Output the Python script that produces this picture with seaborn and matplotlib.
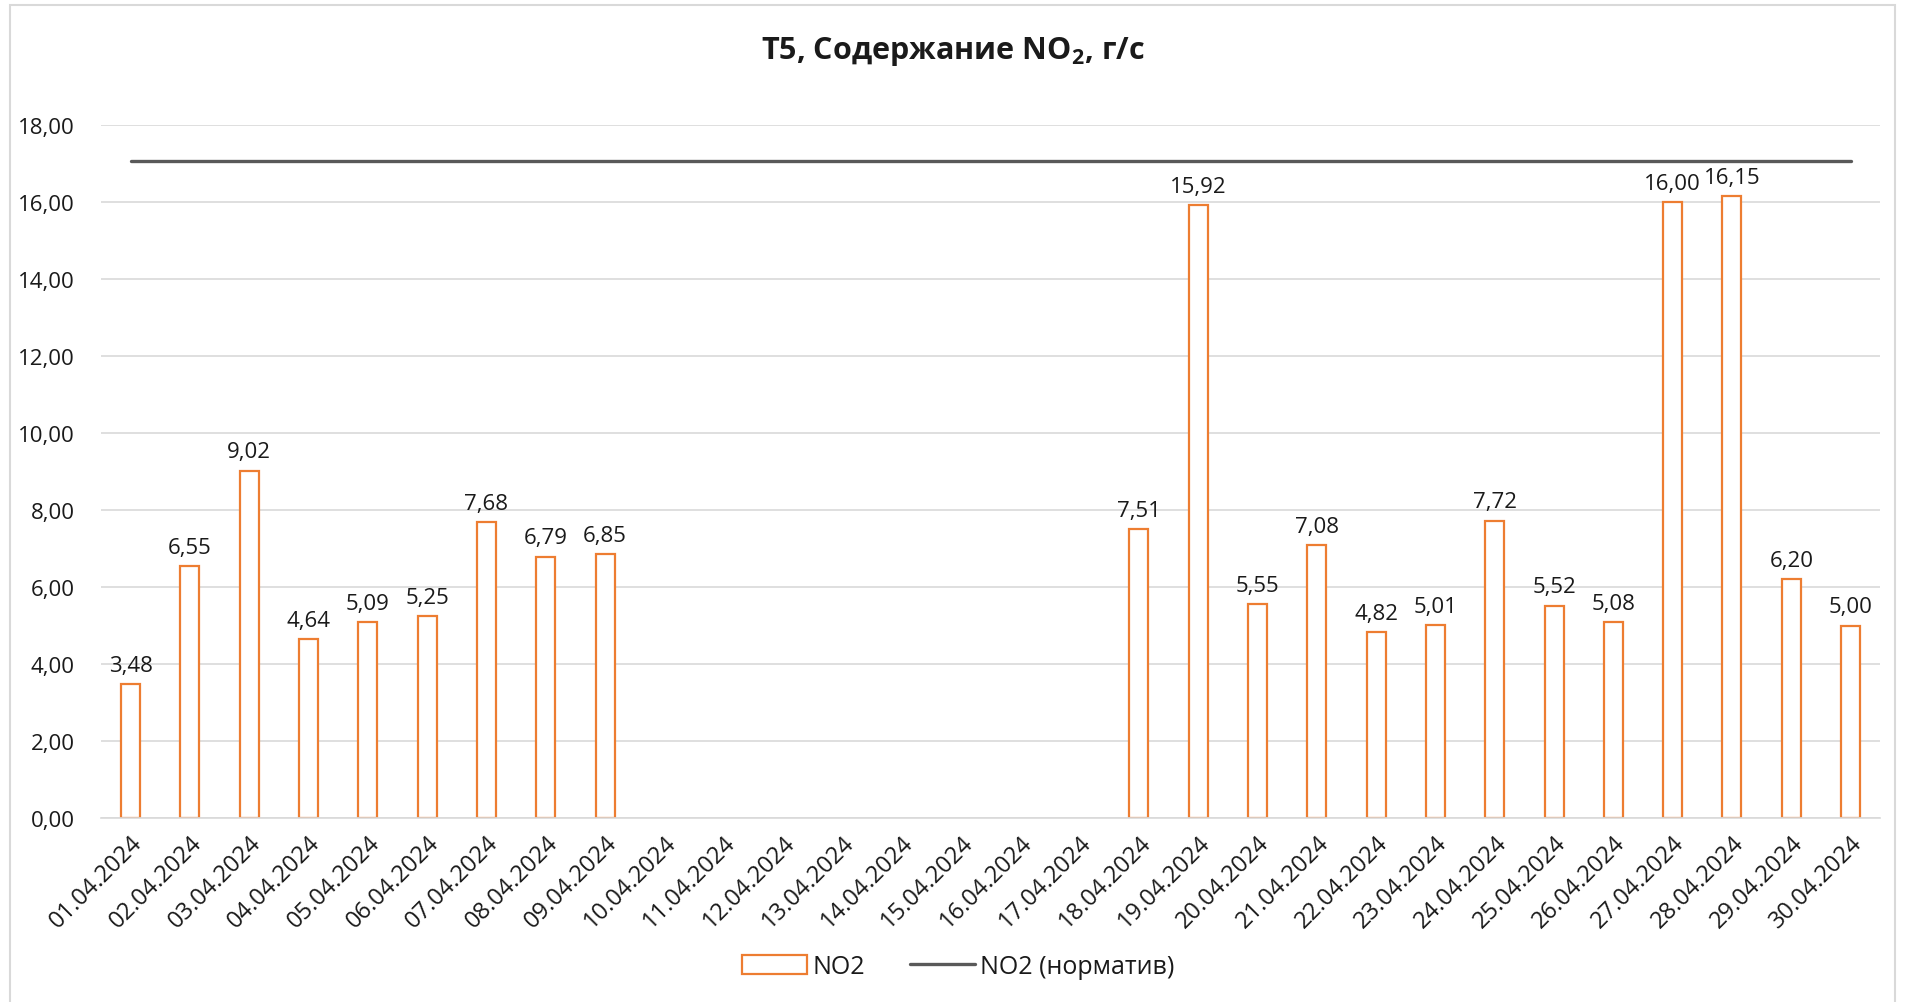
import numpy as np
import pandas as pd
import matplotlib
matplotlib.use('Agg')
import matplotlib.pyplot as plt
import seaborn as sns
from matplotlib.patches import Rectangle
from matplotlib.lines import Line2D

# data
dates = [f"{d:02d}.04.2024" for d in range(1, 31)]
no2 = [3.48, 6.55, 9.02, 4.64, 5.09, 5.25, 7.68, 6.79, 6.85,
       np.nan, np.nan, np.nan, np.nan, np.nan, np.nan, np.nan, np.nan,
       7.51, 15.92, 5.55, 7.08, 4.82, 5.01, 7.72, 5.52, 5.08, 16.00, 16.15, 6.20, 5.00]
norm_value = 17.07
norm = [norm_value] * len(dates)
y_ticks = [0, 2, 4, 6, 8, 10, 12, 14, 16, 18]

bar_color = '#ED7D31'
line_color = '#595959'
text_color = '#1a1a1a'

sns.set_theme(style='white')
plt.rcParams['font.family'] = ['Open Sans', 'DejaVu Sans']
plt.rcParams['mathtext.fontset'] = 'custom'
plt.rcParams['mathtext.rm'] = 'Open Sans'
plt.rcParams['mathtext.bf'] = 'Open Sans:bold'
plt.rcParams['mathtext.default'] = 'bf'

df = pd.DataFrame({'date': dates, 'NO2': no2})

fig = plt.figure(figsize=(19.05, 10.03), dpi=100)
ax = fig.add_axes([0.053, 0.1834, 0.934, 0.6910])

sns.barplot(data=df, x='date', y='NO2', order=dates, ax=ax, width=0.32,
            color='white', edgecolor=bar_color, linewidth=1.6, saturation=1)
sns.lineplot(x=np.arange(len(dates)), y=norm, ax=ax, color=line_color,
             linewidth=2.4, zorder=1)

# value labels
for i, v in enumerate(no2):
    if np.isnan(v):
        continue
    ax.annotate(f"{v:.2f}".replace('.', ','), (i, v), xytext=(0, 6),
                textcoords='offset points', ha='center', va='bottom',
                fontsize=16, color=text_color)

ax.set_xlim(-0.5, len(dates) - 0.5)
ax.set_ylim(0, 18)
ax.set_yticks(y_ticks)
ax.set_yticklabels([f"{t:.2f}".replace('.', ',') for t in y_ticks],
                   fontsize=16, color=text_color)
ax.set_xticks(np.arange(len(dates)))
ax.set_xticklabels(dates, rotation=45, ha='right', rotation_mode='anchor',
                   fontsize=17, color=text_color)
ax.tick_params(axis='x', which='major', length=0, pad=9)
ax.tick_params(axis='y', length=0, pad=19)
# category boundary ticks
ax.set_xticks(np.arange(-0.5, len(dates)), minor=True)
ax.tick_params(axis='x', which='minor', length=8, width=1.2, color='#d9d9d9')
ax.set_xlabel('')
ax.set_ylabel('')
ax.grid(axis='y', color='#d9d9d9', linewidth=1.2)
ax.set_axisbelow(True)
for s in ['top', 'right', 'left']:
    ax.spines[s].set_visible(False)
ax.spines['bottom'].set_color('#d9d9d9')
ax.spines['bottom'].set_linewidth(1.2)

fig.text(0.5, 0.949, r'Т5, Содержание NO$_2$, г/с', ha='center', va='center',
         fontsize=22, fontweight='bold', color=text_color)

handles = [Rectangle((0, 0), 1, 1, facecolor='white', edgecolor=bar_color, linewidth=1.6),
           Line2D([0], [0], color=line_color, linewidth=2.4)]
fig.legend(handles, ['NO2', 'NO2 (норматив)'], loc='center', bbox_to_anchor=(0.503, 0.035),
           ncol=2, frameon=False, fontsize=18, handlelength=2.6, handleheight=0.8,
           columnspacing=1.8, handletextpad=0.2, labelcolor=text_color)

# outer chart border
fig.patches.append(Rectangle((0.005, -0.01), 0.99, 1.004, transform=fig.transFigure,
                             facecolor='none', edgecolor='#d9d9d9', linewidth=1.5))

fig.savefig('out.png', dpi=100)
